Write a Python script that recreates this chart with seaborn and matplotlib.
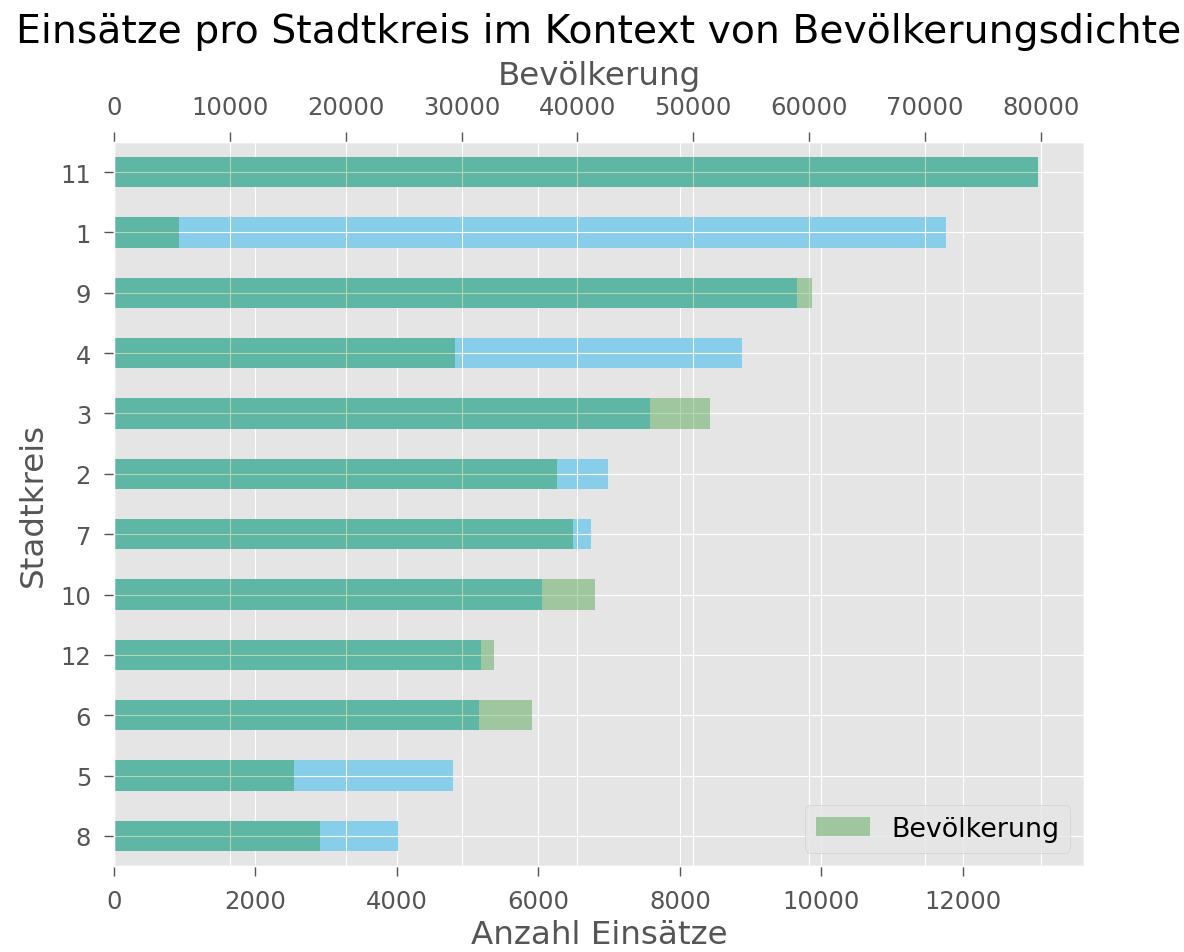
import matplotlib
matplotlib.use("Agg")
import matplotlib.pyplot as plt
import seaborn as sns

# Data
kreise = ['11', '1', '9', '4', '3', '2', '7', '10', '12', '6', '5', '8']
einsaetze = [13060, 11763, 9651, 8877, 7575, 6990, 6744, 6046, 5193, 5165, 4797, 4019]
bevoelkerung = [79750, 5580, 60270, 29460, 51490, 38270, 39650, 41490, 32830, 36050, 15550, 17760]

# Style
plt.style.use('ggplot')
plt.rcParams['font.size'] = 19.4
plt.rcParams['xtick.labelsize'] = 17.5
plt.rcParams['ytick.labelsize'] = 17.5
plt.rcParams['axes.labelsize'] = 23.4
plt.rcParams['axes.titlesize'] = 28.4
for a in ['xtick', 'ytick']:
    plt.rcParams[a + '.major.size'] = 7.5
    plt.rcParams[a + '.major.width'] = 1.0
    plt.rcParams[a + '.major.pad'] = 9

fig = plt.figure(figsize=(11.84, 9.53), dpi=100)
ax = fig.add_axes([0.0963, 0.0902, 0.8192, 0.7598])

# Einsaetze bars
sns.barplot(x=einsaetze, y=kreise, order=kreise, color='skyblue',
            saturation=1, width=0.5, ax=ax)

# Bevoelkerung bars on a twin axis
ax2 = ax.twiny()
sns.barplot(x=bevoelkerung, y=kreise, order=kreise, color='green', alpha=0.3,
            saturation=1, width=0.5, ax=ax2, label='Bevölkerung')

# seaborn switches off the grid on the categorical axis, bring it back
ax.yaxis.grid(True)
ax2.yaxis.set_visible(True)
ax2.yaxis.grid(True)
ax2.tick_params(axis='y', left=False, right=False, labelleft=False, labelright=False)

ax.set_xlabel('Anzahl Einsätze', labelpad=4.5)
ax.set_ylabel('Stadtkreis', labelpad=8)
ax2.set_xlabel('Bevölkerung', labelpad=8)
ax2.set_ylabel('')
ax2.set_title('Einsätze pro Stadtkreis im Kontext von Bevölkerungsdichte', pad=13)
ax2.legend(loc='lower right')

fig.savefig('out.png', dpi=100)
